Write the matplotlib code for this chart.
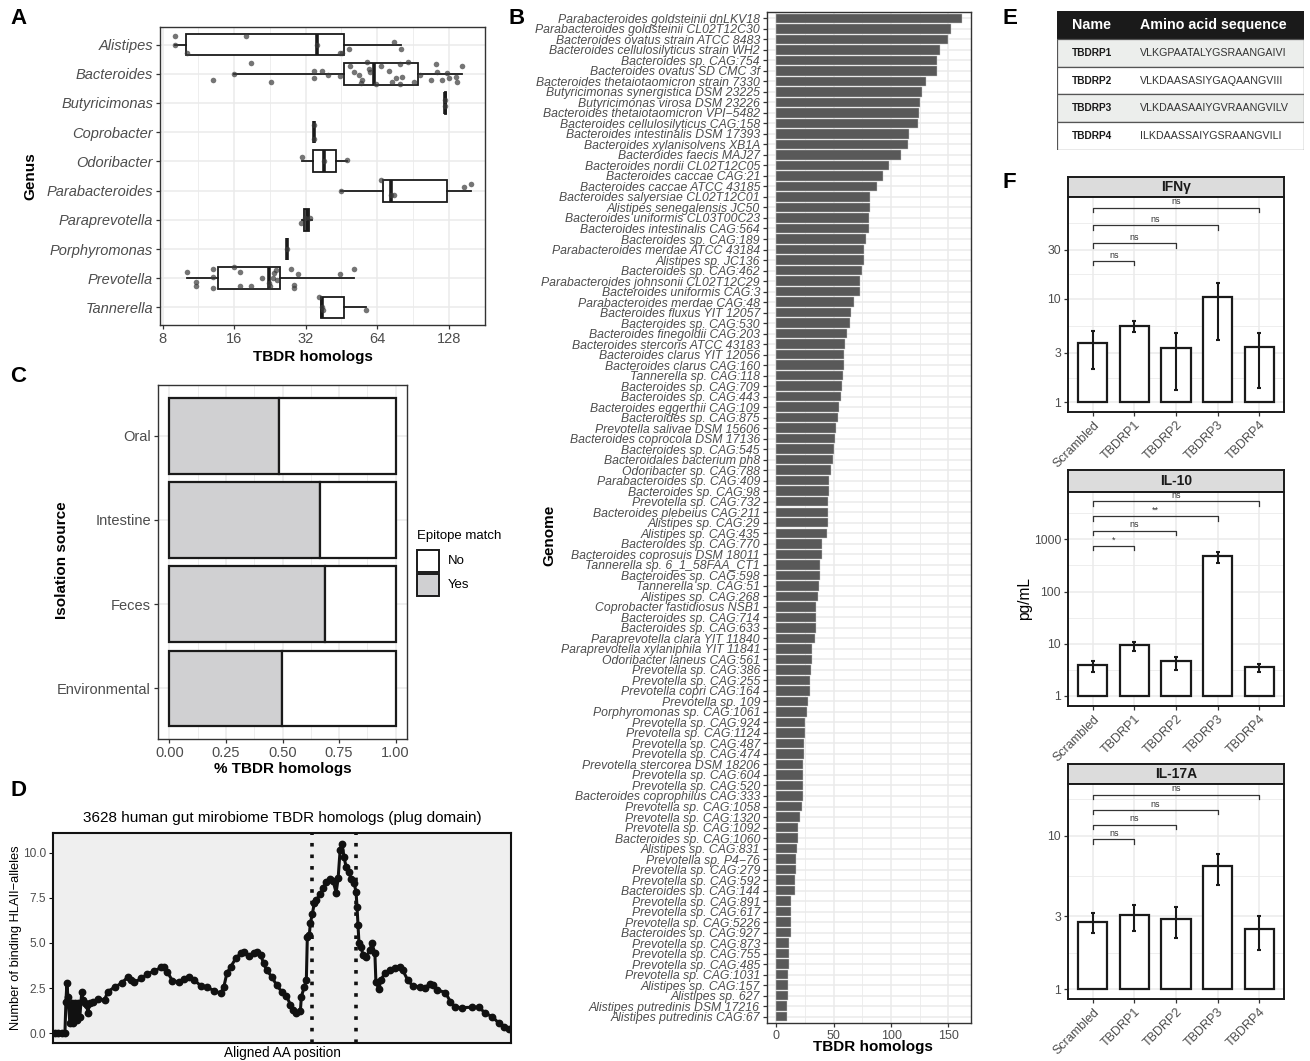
import matplotlib
matplotlib.use('Agg')
import matplotlib.pyplot as plt
from matplotlib.patches import Rectangle
from matplotlib.ticker import NullFormatter
import numpy as np

plt.rcParams['font.family'] = ['Liberation Sans', 'DejaVu Sans']

# ---------------- data ----------------
# A: TBDR homologs per genus (box stats + jittered genomes)
genus = ['Alistipes', 'Bacteroides', 'Butyricimonas', 'Coprobacter', 'Odoribacter',
         'Parabacteroides', 'Paraprevotella', 'Porphyromonas', 'Prevotella', 'Tannerella']
box_lo = [9.0, 16.0, 123.0, 34.7, 30.8, 45.2, 31.0, 26.8, 10.1, 37.2]
box_q1 = [10.0, 46.4, 123.0, 34.7, 34.4, 67.9, 31.6, 26.8, 13.7, 37.2]
box_med = [35.6, 62.0, 124.0, 34.7, 38.2, 73.4, 32.3, 26.8, 22.4, 37.6]
box_q3 = [46.4, 95.0, 125.0, 34.7, 42.8, 125.5, 33.0, 26.8, 24.9, 46.4]
box_hi = [80.4, 146.0, 125.0, 34.7, 47.6, 158.4, 34.0, 26.8, 51.1, 57.2]
pt_vals = [
    [9.0, 9.0, 10.1, 17.9, 35.6, 44.5, 45.5, 48.5, 75.0, 81.0],
    [13.0, 16.0, 18.9, 22.8, 34.7, 34.7, 37.6, 39.9, 44.6, 49.2, 51.1, 53.7, 55.4, 54.9,
     58.2, 59.1, 59.7, 63.0, 66.2, 71.8, 74.1, 76.6, 79.6, 80.0, 81.7, 86.3, 91.5, 97.0,
     107.5, 112.8, 114.7, 120.4, 126.3, 128.4, 137.0, 139.0, 146.0],
    [123.5, 124.0],
    [34.7, 34.7],
    [30.8, 38.2, 47.6],
    [45.2, 66.5, 73.4, 75.5, 148.5, 158.4],
    [30.6, 31.8, 33.5],
    [26.8],
    [10.1, 11.1, 11.1, 13.0, 13.0, 13.0, 16.0, 16.9, 16.9, 18.9, 21.0, 22.4, 22.7, 23.3,
     23.6, 24.0, 24.3, 27.7, 28.6, 28.6, 29.7, 44.6, 51.1],
    [36.5, 37.5, 37.8, 57.2],
]
pt_jit = [
    [-0.28, 0.0, 0.28, -0.28, 0.0, 0.28, 0.3, 0.14, -0.09, 0.14],
    [0.23, 0.02, -0.38, 0.27, -0.09, 0.14, -0.08, 0.06, 0.09, -0.28, -0.06, 0.06, 0.23, 0.32,
     -0.39, -0.17, -0.06, 0.36, -0.28, -0.11, 0.28, 0.14, 0.36, -0.32, 0.11, -0.39, 0.28, 0.06,
     0.23, -0.34, -0.07, 0.23, -0.02, 0.14, 0.11, 0.28, -0.27],
    [-0.1, 0.1],
    [-0.25, 0.25],
    [-0.15, 0.0, -0.05],
    [0.0, -0.37, 0.14, 0.14, -0.11, -0.23],
    [0.12, -0.05, -0.07],
    [0.0],
    [-0.22, 0.12, 0.28, -0.31, -0.06, 0.33, -0.38, -0.22, 0.28, 0.28, 0.0, 0.15, 0.26, -0.02,
     -0.19, -0.28, 0.07, -0.31, 0.24, 0.32, -0.15, -0.16, -0.31],
    [-0.36, 0.0, 0.07, 0.08],
]

# B: TBDR homologs per genome
genomes = [
    'Parabacteroides goldsteinii dnLKV18', 'Parabacteroides goldsteinii CL02T12C30',
    'Bacteroides ovatus strain ATCC 8483', 'Bacteroides cellulosilyticus strain WH2',
    'Bacteroides sp. CAG:754', 'Bacteroides ovatus SD CMC 3f',
    'Bacteroides thetaiotaomicron strain 7330', 'Butyricimonas synergistica DSM 23225',
    'Butyricimonas virosa DSM 23226', 'Bacteroides thetaiotaomicron VPI\u22125482',
    'Bacteroides cellulosilyticus CAG:158', 'Bacteroides intestinalis DSM 17393',
    'Bacteroides xylanisolvens XB1A', 'Bacteroides faecis MAJ27',
    'Bacteroides nordii CL02T12C05', 'Bacteroides caccae CAG:21',
    'Bacteroides caccae ATCC 43185', 'Bacteroides salyersiae CL02T12C01',
    'Alistipes senegalensis JC50', 'Bacteroides uniformis CL03T00C23',
    'Bacteroides intestinalis CAG:564', 'Bacteroides sp. CAG:189',
    'Parabacteroides merdae ATCC 43184', 'Alistipes sp. JC136',
    'Bacteroides sp. CAG:462', 'Parabacteroides johnsonii CL02T12C29',
    'Bacteroides uniformis CAG:3', 'Parabacteroides merdae CAG:48',
    'Bacteroides fluxus YIT 12057', 'Bacteroides sp. CAG:530',
    'Bacteroides finegoldii CAG:203', 'Bacteroides stercoris ATCC 43183',
    'Bacteroides clarus YIT 12056', 'Bacteroides clarus CAG:160',
    'Tannerella sp. CAG:118', 'Bacteroides sp. CAG:709',
    'Bacteroides sp. CAG:443', 'Bacteroides eggerthii CAG:109',
    'Bacteroides sp. CAG:875', 'Prevotella salivae DSM 15606',
    'Bacteroides coprocola DSM 17136', 'Bacteroides sp. CAG:545',
    'Bacteroidales bacterium ph8', 'Odoribacter sp. CAG:788',
    'Parabacteroides sp. CAG:409', 'Bacteroides sp. CAG:98',
    'Prevotella sp. CAG:732', 'Bacteroides plebeius CAG:211',
    'Alistipes sp. CAG:29', 'Alistipes sp. CAG:435',
    'Bacteroides sp. CAG:770', 'Bacteroides coprosuis DSM 18011',
    'Tannerella sp. 6_1_58FAA_CT1', 'Bacteroides sp. CAG:598',
    'Tannerella sp. CAG:51', 'Alistipes sp. CAG:268',
    'Coprobacter fastidiosus NSB1', 'Bacteroides sp. CAG:714',
    'Bacteroides sp. CAG:633', 'Paraprevotella clara YIT 11840',
    'Paraprevotella xylaniphila YIT 11841', 'Odoribacter laneus CAG:561',
    'Prevotella sp. CAG:386', 'Prevotella sp. CAG:255',
    'Prevotella copri CAG:164', 'Prevotella sp. 109',
    'Porphyromonas sp. CAG:1061', 'Prevotella sp. CAG:924',
    'Prevotella sp. CAG:1124', 'Prevotella sp. CAG:487',
    'Prevotella sp. CAG:474', 'Prevotella stercorea DSM 18206',
    'Prevotella sp. CAG:604', 'Prevotella sp. CAG:520',
    'Bacteroides coprophilus CAG:333', 'Prevotella sp. CAG:1058',
    'Prevotella sp. CAG:1320', 'Prevotella sp. CAG:1092',
    'Bacteroides sp. CAG:1060', 'Alistipes sp. CAG:831',
    'Prevotella sp. P4\u221276', 'Prevotella sp. CAG:279',
    'Prevotella sp. CAG:592', 'Bacteroides sp. CAG:144',
    'Prevotella sp. CAG:891', 'Prevotella sp. CAG:617',
    'Prevotella sp. CAG:5226', 'Bacteroides sp. CAG:927',
    'Prevotella sp. CAG:873', 'Prevotella sp. CAG:755',
    'Prevotella sp. CAG:485', 'Prevotella sp. CAG:1031',
    'Alistipes sp. CAG:157', 'Alistipes sp. 627',
    'Alistipes putredinis DSM 17216', 'Alistipes putredinis CAG:67',
]
genome_counts = [162, 152, 150, 143, 140, 140, 130, 127, 125, 124, 123, 116, 115, 109, 98, 93,
                 88, 82, 82, 81, 81, 78, 76, 76, 75, 73, 73, 68, 65, 64, 62, 60, 59, 59, 58, 57,
                 56, 55, 54, 52, 51, 50, 49, 48, 46, 46, 45, 45, 45, 44, 40, 40, 38, 38, 37, 36,
                 35, 35, 35, 34, 31, 31, 30, 29, 29, 28, 27, 25, 25, 24, 24, 23, 23, 23, 23, 22,
                 21, 19, 19, 18, 17, 17, 16, 16, 13, 13, 13, 13, 11, 11, 11, 10, 10, 10, 9, 9]

# C: epitope match fraction per isolation source
sources = ['Oral', 'Intestine', 'Feces', 'Environmental']
frac_yes = [0.486, 0.665, 0.687, 0.499]

# D: HLA-II binding along aligned plug domain
aa_pos = [0, 3, 7, 10, 11, 12, 13, 15, 17, 18, 20, 22, 23, 25, 27, 28, 30, 32, 33, 35, 38, 43,
          50, 53, 60, 67, 73, 77, 80, 87, 93, 100, 107, 110, 113, 118, 125, 130, 135, 140,
          147, 153, 160, 167, 170, 173, 177, 182, 187, 190, 195, 200, 203, 207, 210, 213,
          218, 223, 228, 233, 237, 240, 243, 247, 248, 251, 253, 254, 256, 257, 259, 261,
          263, 267, 270, 273, 277, 280, 283, 285, 287, 289, 291, 293, 296, 298, 301, 303,
          304, 305, 306, 308, 310, 313, 317, 319, 322, 323, 326, 328, 332, 337, 342, 347,
          350, 355, 360, 367, 372, 377, 380, 385, 393, 398, 403, 410, 420, 427, 433, 440,
          447, 452, 457]
hla_bind = [0.0, 0.0, 0.0, 0.0, 1.75, 2.77, 2.03, 0.55, 1.66, 0.55, 1.66, 0.74, 1.66, 0.92, 2.3,
            1.85, 1.66, 1.57, 1.14, 1.66, 1.75, 1.88, 1.85, 2.3, 2.55, 2.77, 3.1, 2.95, 2.82,
            3.04, 3.28, 3.45, 3.65, 3.69, 3.41, 2.92, 2.84, 2.99, 3.14, 2.95, 2.62, 2.55, 2.36,
            2.21, 2.58, 3.32, 3.69, 4.15, 4.43, 4.52, 4.28, 4.46, 4.52, 4.34, 3.87, 3.5, 3.14,
            2.68, 2.31, 2.07, 1.57, 1.29, 1.14, 1.25, 2.03, 2.58, 2.95, 5.35, 5.44, 6.09, 6.6,
            7.2, 7.38, 7.71, 8.03, 8.39, 8.52, 8.41, 7.79, 8.58, 10.15, 10.48, 9.74, 9.22, 8.95,
            8.52, 8.34, 7.84, 7.01, 6.0, 4.98, 4.8, 4.34, 4.2, 4.61, 4.98, 4.43, 2.86, 2.44,
            2.95, 3.32, 3.5, 3.6, 3.69, 3.5, 2.95, 2.62, 2.58, 2.49, 2.73, 2.68, 2.4, 2.25,
            1.75, 1.44, 1.42, 1.44, 1.44, 1.11, 0.92, 0.55, 0.33, 0.22]
epitope_bounds = [259, 303]

# E: peptides
pep_names = ['TBDRP1', 'TBDRP2', 'TBDRP3', 'TBDRP4']
pep_seqs = ['VLKGPAATALYGSRAANGAIVI', 'VLKDAASASIYGAQAANGVIII',
            'VLKDAASAAIYGVRAANGVILV', 'ILKDAASSAIYGSRAANGVILI']

# F: cytokines (pg/mL)
peptides = ['Scrambled', 'TBDRP1', 'TBDRP2', 'TBDRP3', 'TBDRP4']
ifng_mean = [3.72, 5.52, 3.38, 10.5, 3.41]
ifng_lo = [2.09, 4.8, 1.32, 4.01, 1.38]
ifng_hi = [4.9, 6.12, 4.69, 14.2, 4.69]
ifng_sig = ['ns', 'ns', 'ns', 'ns']
ifng_brk = [23.3, 34.6, 51.6, 76.5]
il10_mean = [3.88, 9.38, 4.56, 480, 3.5]
il10_lo = [2.8, 7.1, 3.1, 347, 2.8]
il10_hi = [4.63, 10.7, 5.6, 581, 4.05]
il10_sig = ['*', 'ns', '**', 'ns']
il10_brk = [757, 1469, 2811, 5450]
il17a_mean = [2.76, 3.03, 2.86, 6.31, 2.46]
il17a_lo = [2.31, 2.4, 2.17, 4.8, 1.79]
il17a_hi = [3.15, 3.54, 3.42, 7.56, 3.0]
il17a_sig = ['ns', 'ns', 'ns', 'ns']
il17a_brk = [9.47, 11.8, 14.7, 18.5]

# ---------------- figure helpers ----------------
W, H = 1310, 1061
fig = plt.figure(figsize=(W / 100, H / 100), dpi=100)

GRID = '#EBEBEB'
TICKC = '#4D4D4D'
FRAME = '#333333'
YES_C = '#D0D0D2'


def px_axes(l, t, r, b):
    return fig.add_axes([l / W, 1 - b / H, (r - l) / W, (b - t) / H])


def ftext(x, y, s, **kw):
    fig.text(x / W, 1 - y / H, s, **kw)


def bw(ax, frame=FRAME, lw=1.0, fs=10.5):
    ax.set_facecolor('white')
    for sp in ax.spines.values():
        sp.set_color(frame)
        sp.set_linewidth(lw)
    ax.tick_params(color=FRAME, labelcolor=TICKC, length=3, width=0.9, labelsize=fs, pad=2)
    ax.tick_params(which='minor', length=0)
    ax.set_axisbelow(True)


def letter(x, y, s):
    ftext(x, y, s, fontsize=16, fontweight='bold', ha='left', va='top')


# ---------------- A ----------------
axA = px_axes(160, 27, 485, 325)
bw(axA)
stats = [dict(whislo=a, q1=b, med=c, q3=d, whishi=e, fliers=[])
         for a, b, c, d, e in zip(box_lo, box_q1, box_med, box_q3, box_hi)]
pos = np.arange(1, len(genus) + 1)
axA.bxp(stats, positions=pos, orientation='horizontal', widths=0.75, showcaps=False,
        showfliers=False, patch_artist=True,
        boxprops=dict(facecolor='white', edgecolor='#1A1A1A', linewidth=1.3),
        medianprops=dict(color='#1A1A1A', linewidth=2.6),
        whiskerprops=dict(color='#1A1A1A', linewidth=1.3))
for i, (vals, jit) in enumerate(zip(pt_vals, pt_jit)):
    axA.scatter(vals, [pos[i] + j for j in jit], s=16, color='#3A3A3A', alpha=0.7,
                linewidths=0, zorder=4)
axA.set_xscale('log', base=2)
axA.set_xlim(7.8, 182)
axA.set_xticks([8, 16, 32, 64, 128], labels=['8', '16', '32', '64', '128'])
axA.set_xticks([11.31, 22.63, 45.25, 90.51], minor=True)
axA.xaxis.set_minor_formatter(NullFormatter())
axA.set_yticks(pos, labels=genus, fontstyle='italic')
axA.set_ylim(10.6, 0.4)
axA.grid(True, which='major', color=GRID, lw=1.1)
axA.grid(True, which='minor', axis='x', color=GRID, lw=0.6)
ftext(313, 357, 'TBDR homologs', fontsize=11, fontweight='bold', ha='center', va='center')
ftext(30, 176, 'Genus', fontsize=11, fontweight='bold', ha='center', va='center', rotation=90)
letter(10, 8, 'A')

# ---------------- C ----------------
axC = px_axes(158, 385, 407, 739)
bw(axC)
cpos = np.arange(1, len(sources) + 1)
frac_no = [1 - v for v in frac_yes]
axC.barh(cpos, frac_yes, height=0.9, color=YES_C, edgecolor='#1A1A1A', linewidth=1.6)
axC.barh(cpos, frac_no, left=frac_yes, height=0.9, color='white', edgecolor='#1A1A1A',
         linewidth=1.6)
axC.set_xlim(-0.05, 1.05)
axC.set_ylim(len(sources) + 0.6, 0.4)
axC.set_xticks([0, 0.25, 0.5, 0.75, 1.0], labels=['0.00', '0.25', '0.50', '0.75', '1.00'])
axC.set_xticks([0.125, 0.375, 0.625, 0.875], minor=True)
axC.set_yticks(cpos, labels=sources)
axC.grid(True, which='major', color=GRID, lw=1.1)
axC.grid(True, which='minor', axis='x', color=GRID, lw=0.6)
ftext(283, 769, '% TBDR homologs', fontsize=11, fontweight='bold', ha='center', va='center')
ftext(62, 560, 'Isolation source', fontsize=11, fontweight='bold', ha='center', va='center',
      rotation=90)
letter(10, 366, 'C')
# legend
ftext(417, 536, 'Epitope match', fontsize=9.5, ha='left', va='center')
for k, (lab, col) in enumerate([('No', 'white'), ('Yes', YES_C)]):
    top = 550 + k * 24
    fig.add_artist(Rectangle((417 / W, 1 - (top + 22) / H), 22 / W, 22 / H,
                             transform=fig.transFigure, facecolor=col,
                             edgecolor='#1A1A1A', lw=1.4))
    ftext(448, top + 11, lab, fontsize=9.5, ha='left', va='center')

# ---------------- D ----------------
axD = px_axes(53, 833, 511, 1043)
axD.set_facecolor('#EFEFEF')
for sp in axD.spines.values():
    sp.set_color('#111111')
    sp.set_linewidth(1.5)
axD.plot(aa_pos, hla_bind, '-o', color='#111111', lw=2.2, ms=4.6, zorder=3)
for xb in epitope_bounds:
    axD.axvline(xb, color='#111111', lw=2.6, ls=(0, (1, 2.2)), zorder=2)
axD.set_xlim(-2, 459)
axD.set_ylim(-0.54, 11.09)
axD.set_xticks([])
axD.set_yticks([0, 2.5, 5, 7.5, 10], labels=['0.0', '2.5', '5.0', '7.5', '10.0'])
axD.tick_params(color='#111111', labelcolor=TICKC, length=3, labelsize=8.6, pad=2)
ftext(282, 818, '3628 human gut mirobiome TBDR homologs (plug domain)', fontsize=11,
      ha='center', va='center')
ftext(282, 1053, 'Aligned AA position', fontsize=9.8, ha='center', va='center')
ftext(16, 938, 'Number of binding HLAII\u2212alleles', fontsize=9.3, ha='center', va='center',
      rotation=90)
letter(10, 780, 'D')

# ---------------- B ----------------
axB = px_axes(767, 12, 971, 1023)
bw(axB, fs=9)
bpos = np.arange(1, len(genomes) + 1)
axB.barh(bpos, genome_counts, height=0.9, color='#595959', edgecolor='#C8C8C8', linewidth=0.3)
axB.set_xlim(-8.1, 169.6)
axB.set_ylim(len(genomes) + 0.6, 0.4)
axB.set_xticks([0, 50, 100, 150], labels=['0', '50', '100', '150'])
axB.set_xticks([25, 75, 125], minor=True)
axB.set_yticks(bpos, labels=genomes, fontstyle='italic', fontsize=8.8)
axB.grid(True, which='major', color=GRID, lw=1.1)
axB.grid(True, which='minor', axis='x', color=GRID, lw=0.6)
ftext(873, 1047, 'TBDR homologs', fontsize=11, fontweight='bold', ha='center', va='center')
ftext(549, 535, 'Genome', fontsize=11, fontweight='bold', ha='center', va='center', rotation=90)
letter(508, 8, 'B')

# ---------------- E ----------------
axE = px_axes(1057, 11, 1304, 150)
axE.set_xlim(0, 1)
axE.set_ylim(len(pep_names) + 1, 0)
axE.axis('off')
axE.add_patch(Rectangle((0, 0), 1, 1, facecolor='#1A1A1A', edgecolor='#1A1A1A'))
axE.text(0.06, 0.5, 'Name', color='white', fontsize=10.3, fontweight='bold', va='center')
axE.text(0.336, 0.5, 'Amino acid sequence', color='white', fontsize=10.3, fontweight='bold',
         va='center')
for i, (nm, sq) in enumerate(zip(pep_names, pep_seqs)):
    fc = '#ECEEEC' if i % 2 == 0 else 'white'
    axE.add_patch(Rectangle((0, i + 1), 1, 1, facecolor=fc, edgecolor='#555555', lw=0.9))
    axE.text(0.06, i + 1.5, nm, fontsize=7.3, fontweight='bold', color='#1A1A1A', va='center')
    axE.text(0.336, i + 1.5, sq, fontsize=7.7, color='#333333', va='center')
letter(1003, 8, 'E')

# ---------------- F ----------------
panels = [
    ('IFN\u03b3', ifng_mean, ifng_lo, ifng_hi, ifng_sig, ifng_brk, (0.805, 97),
     [1, 3, 10, 30], [1.73, 5.48, 17.3, 54.8], (177, 197, 412)),
    ('IL-10', il10_mean, il10_lo, il10_hi, il10_sig, il10_brk, (0.634, 8130),
     [1, 10, 100, 1000], [3.16, 31.6, 316, 3162], (470, 492, 706)),
    ('IL-17A', il17a_mean, il17a_lo, il17a_hi, il17a_sig, il17a_brk, (0.865, 21.7),
     [1, 3, 10], [1.73, 5.48, 17.3], (764, 784, 999)),
]
fx = np.arange(len(peptides))
for name, mean, lo, hi, sig, brk, ylim, yt, ymin, (st, pt, pb) in panels:
    sax = px_axes(1068, st, 1284, pt)
    sax.set_facecolor('#DCDCDC')
    sax.set_xticks([])
    sax.set_yticks([])
    for sp in sax.spines.values():
        sp.set_color('#1A1A1A')
        sp.set_linewidth(1.4)
    sax.text(0.5, 0.5, name, ha='center', va='center', fontsize=10, fontweight='bold',
             color='#1A1A1A', transform=sax.transAxes)
    ax = px_axes(1068, pt, 1284, pb)
    bw(ax, frame='#1A1A1A', lw=1.4, fs=8.8)
    ax.set_yscale('log')
    ax.set_ylim(*ylim)
    ax.set_xlim(-0.6, len(peptides) - 0.4)
    ax.bar(fx, [m - 1 for m in mean], bottom=1, width=0.7, color='white', edgecolor='#1A1A1A',
           linewidth=1.6, zorder=2)
    yerr = [[m - l for m, l in zip(mean, lo)], [h - m for m, h in zip(mean, hi)]]
    ax.errorbar(fx, mean, yerr=yerr, fmt='none', ecolor='#1A1A1A', elinewidth=1.5,
                capsize=1.6, capthick=1.5, zorder=3)
    ax.set_yticks(yt, labels=[str(v) for v in yt])
    ax.set_yticks(ymin, minor=True)
    ax.yaxis.set_minor_formatter(NullFormatter())
    ax.set_xticks(fx, labels=peptides, rotation=45, ha='right', rotation_mode='anchor',
                  fontsize=9)
    ax.grid(True, which='major', color=GRID, lw=1.1)
    ax.grid(True, which='minor', axis='y', color=GRID, lw=0.6)
    # brackets
    decades = np.log10(ylim[1] / ylim[0])
    leg = 10 ** (4.5 / (pb - pt) * decades)
    for j, (yb, lab) in enumerate(zip(brk, sig)):
        ax.plot([0, 0, j + 1, j + 1], [yb / leg, yb, yb, yb / leg], color='#333333', lw=0.9,
                zorder=3)
        ax.annotate(lab, ((j + 1) / 2, yb), xytext=(0, 1), textcoords='offset points',
                    ha='center', va='bottom', fontsize=6.5, color='#333333')
ftext(1025, 598, 'pg/mL', fontsize=11.2, ha='center', va='center', rotation=90)
letter(1003, 172, 'F')

fig.savefig('out.png', dpi=100)
